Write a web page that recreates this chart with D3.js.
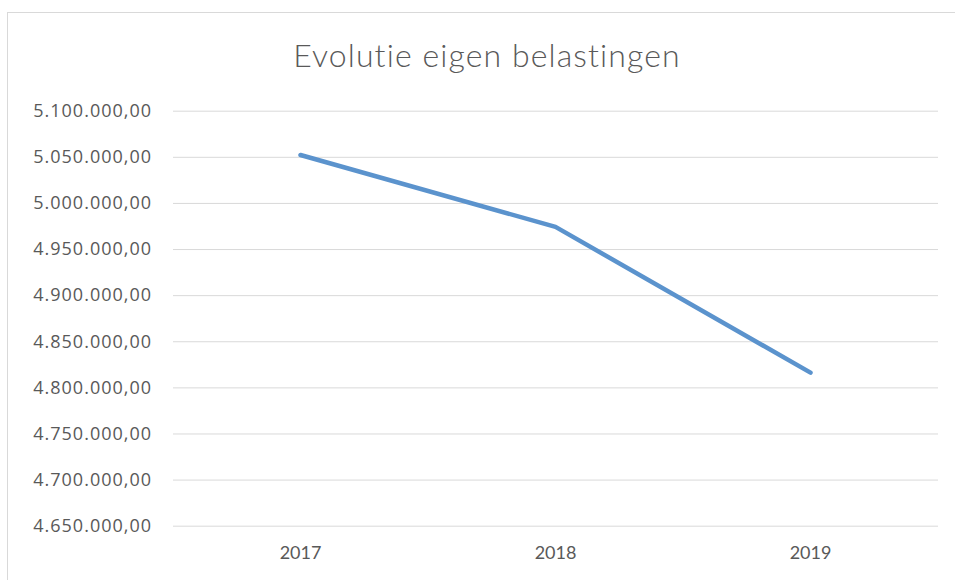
<!DOCTYPE html>
<html>
<head>
<meta charset="utf-8">
<script src="https://cdn.jsdelivr.net/npm/d3@7"></script>
<style>
  body { margin: 0; background: #fff; }
  svg { display: block; font-family: Lato, "Open Sans", sans-serif; }
</style>
</head>
<body>
<svg width="955" height="580"></svg>
<script>
  // data
  const years = ["2017", "2018", "2019"];
  const values = [5052000, 4974000, 4816000];
  const yTicks = [4650000, 4700000, 4750000, 4800000, 4850000, 4900000, 4950000, 5000000, 5050000, 5100000];
  const title = "Evolutie eigen belastingen";

  const svg = d3.select("svg");

  const plotLeft = 173, plotRight = 938, plotTop = 110.7, plotBottom = 525.7;

  const nl = d3.formatLocale({ decimal: ",", thousands: ".", grouping: [3], currency: ["€", ""] });
  const fmt = nl.format(",.2f");

  const x = d3.scaleBand().domain(years).range([plotLeft, plotRight]);
  const y = d3.scaleLinear().domain([4650000, 5100000]).range([plotBottom, plotTop]);

  // chart frame (right and bottom edges fall outside the picture)
  svg.append("rect")
    .attr("x", 7.5).attr("y", 12.5)
    .attr("width", 1000).attr("height", 1000)
    .attr("fill", "none")
    .attr("stroke", "#d9d9d9");

  svg.append("text")
    .attr("x", 487).attr("y", 67)
    .attr("text-anchor", "middle")
    .attr("fill", "#595959")
    .style("font-size", "32px")
    .style("font-weight", 300)
    .style("letter-spacing", "1.1px")
    .text(title);

  // gridlines + y labels
  const yAxis = d3.axisLeft(y)
    .tickValues(yTicks)
    .tickSize(-(plotRight - plotLeft))
    .tickPadding(21)
    .tickFormat(fmt);

  const gy = svg.append("g")
    .attr("transform", `translate(${plotLeft},0)`)
    .call(yAxis);
  gy.select(".domain").remove();
  gy.selectAll(".tick line").attr("stroke", "#d9d9d9").attr("stroke-width", 1);
  gy.selectAll(".tick text")
    .attr("fill", "#595959")
    .style("font-size", "18px")
    .style("letter-spacing", "1px")
    .style("font-family", "'Open Sans', sans-serif");

  // x labels
  const xAxis = d3.axisBottom(x).tickSize(0).tickPadding(21);
  const gx = svg.append("g")
    .attr("transform", `translate(0,${plotBottom})`)
    .call(xAxis);
  gx.select(".domain").remove();
  gx.selectAll(".tick text")
    .attr("fill", "#595959")
    .style("font-size", "18px")
    .style("font-family", "Lato, sans-serif");

  const line = d3.line()
    .x((d, i) => x(years[i]) + x.bandwidth() / 2)
    .y(d => y(d));

  svg.append("path")
    .datum(values)
    .attr("d", line)
    .attr("fill", "none")
    .attr("stroke", "#5b93cd")
    .attr("stroke-width", 4.5)
    .attr("stroke-linecap", "round")
    .attr("stroke-linejoin", "round");
</script>
</body>
</html>
